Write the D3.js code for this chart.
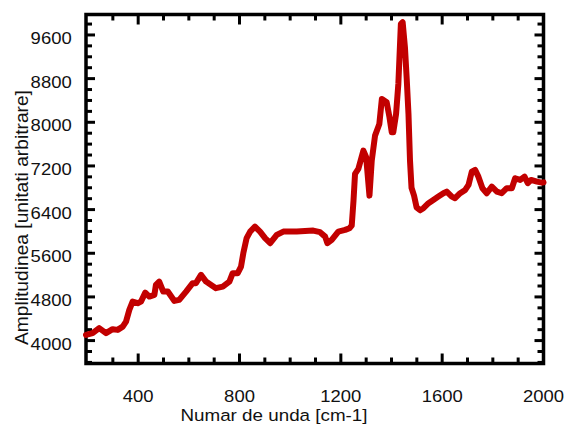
<!DOCTYPE html>
<html>
<head>
<meta charset="utf-8">
<script src="https://cdn.jsdelivr.net/npm/d3@7"></script>
<style>
  body { margin: 0; background: #fff; }
  text { font-family: "Liberation Sans", Arial, sans-serif; fill: #111; }
</style>
</head>
<body>
<div id="chart-area"><svg></svg></div>
<script>
const chartSize = { width: 566, height: 425 };
const frame = { left: 86, right: 543.5, top: 14.5, bottom: 363.5 };

// wavenumber [cm-1] and amplitude
const waveNumbers = [
  194, 220, 246, 273, 299, 319, 339, 352, 365, 378, 398, 411, 428, 444, 464,
  470, 483, 499, 517, 543, 562, 589, 615, 628, 648, 668, 688, 707, 734, 760,
  773, 793, 806, 815, 828, 842, 861, 881, 901, 921, 947, 973, 1026, 1091, 1118,
  1138, 1147, 1164, 1190, 1217, 1234, 1243, 1250, 1256, 1269, 1289, 1300, 1313,
  1322, 1335, 1352, 1362, 1381, 1392, 1401, 1407, 1418, 1427, 1437, 1444, 1453,
  1460, 1467, 1473, 1479, 1489, 1499, 1513, 1526, 1546, 1565, 1585, 1605, 1618,
  1638, 1651, 1671, 1691, 1704, 1717, 1730, 1743, 1759, 1776, 1796, 1816, 1835,
  1855, 1875, 1888, 1908, 1925, 1938, 1951, 1974, 1994, 2000
];
const amplitudes = [
  4104, 4136, 4227, 4136, 4209, 4196, 4256, 4348, 4562, 4714, 4685, 4714, 4879, 4806, 4837,
  5020, 5081, 4898, 4898, 4727, 4746, 4898, 5052, 5052, 5204, 5081, 5020, 4960, 4989, 5081,
  5235, 5235, 5356, 5601, 5876, 5997, 6088, 5997, 5876, 5784, 5936, 5997, 5997, 6015, 5986,
  5905, 5784, 5845, 5997, 6028, 6059, 6107, 6565, 7054, 7145, 7481, 7360, 6656,
  7297, 7755, 7970, 8428, 8367, 8092, 7818, 7818, 8153, 8702, 9802, 9833, 9375,
  8800, 8153, 7300, 6800, 6656, 6441, 6387, 6425, 6517, 6577, 6638, 6700, 6730,
  6638, 6609, 6700, 6761, 6852, 7096, 7127, 7004, 6792, 6700, 6821, 6730, 6700,
  6792, 6792, 6975, 6944, 7004, 6883, 6944, 6913, 6894, 6900
];

const xDomain = [194, 2000];
const yDomain = [3580, 9975];
const xTickLabels = [400, 800, 1200, 1600, 2000];
const yTickLabels = [4000, 4800, 5600, 6400, 7200, 8000, 8800, 9600];
const xMinorStep = 100;
const yMinorStep = 200;

const x = d3.scaleLinear().domain(xDomain).range([frame.left, frame.right]);
const y = d3.scaleLinear().domain(yDomain).range([frame.bottom, frame.top]);

const svg = d3.select("#chart-area svg")
  .attr("width", chartSize.width)
  .attr("height", chartSize.height);

const xMinor = d3.range(300, 2000, xMinorStep);
const yMinor = d3.range(3600, 10000, yMinorStep);

const ticks = svg.append("g").attr("stroke", "#000").attr("stroke-width", 3);

const drawXTicks = (yPos, dir) => {
  ticks.selectAll(null)
    .data(xMinor)
    .enter().append("line")
    .attr("x1", d => x(d)).attr("x2", d => x(d))
    .attr("y1", yPos)
    .attr("y2", d => yPos + dir * (d % 400 === 0 ? 10 : 6));
};
const drawYTicks = (xPos, dir) => {
  ticks.selectAll(null)
    .data(yMinor)
    .enter().append("line")
    .attr("y1", d => y(d)).attr("y2", d => y(d))
    .attr("x1", xPos)
    .attr("x2", d => xPos + dir * (d % 800 === 0 ? 9 : 6));
};
drawXTicks(frame.bottom, -1);
drawXTicks(frame.top, 1);
drawYTicks(frame.left, 1);
drawYTicks(frame.right, -1);

svg.append("rect")
  .attr("x", frame.left)
  .attr("y", frame.top)
  .attr("width", frame.right - frame.left)
  .attr("height", frame.bottom - frame.top)
  .attr("fill", "none")
  .attr("stroke", "#000")
  .attr("stroke-width", 3.5);

// tick labels (the picture's text is slightly wide, hence scaleX)
svg.append("g").selectAll("text")
  .data(xTickLabels)
  .enter().append("text")
  .attr("transform", d => `translate(${x(d)}, 402) scale(1.12, 1)`)
  .attr("text-anchor", "middle")
  .attr("font-size", 16.5)
  .text(d => d);

svg.append("g").selectAll("text")
  .data(yTickLabels)
  .enter().append("text")
  .attr("transform", d => `translate(71.7, ${y(d) + 9}) scale(1.12, 1)`)
  .attr("text-anchor", "end")
  .attr("font-size", 16.5)
  .text(d => d);

svg.append("text")
  .attr("transform", "translate(274, 421) scale(1.14, 1)")
  .attr("text-anchor", "middle")
  .attr("font-size", 16.5)
  .text("Numar de unda [cm-1]");

svg.append("text")
  .attr("transform", "translate(28.3, 217.5) rotate(-90)")
  .attr("text-anchor", "middle")
  .attr("font-size", 19.2)
  .text("Amplitudinea [unitati arbitrare]");

const line = d3.line()
  .x(d => x(d[0]))
  .y(d => y(d[1]));

svg.append("path")
  .datum(d3.zip(waveNumbers, amplitudes))
  .attr("d", line)
  .attr("fill", "none")
  .attr("stroke", "#c20000")
  .attr("stroke-width", 6)
  .attr("stroke-linejoin", "round")
  .attr("stroke-linecap", "round");
</script>
</body>
</html>
